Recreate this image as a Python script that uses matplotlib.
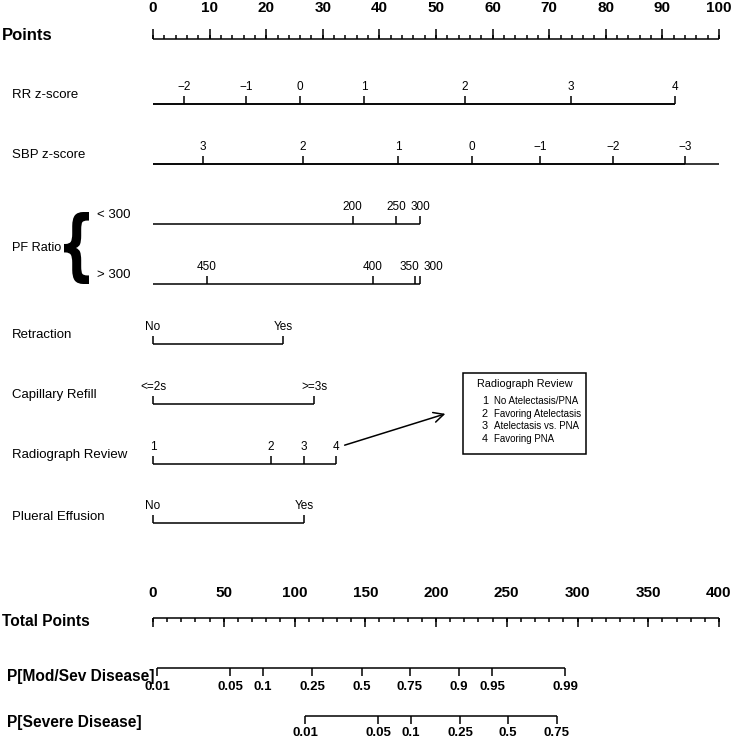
import matplotlib
matplotlib.use("Agg")
import matplotlib.pyplot as plt
from matplotlib.patches import Rectangle, FancyArrowPatch, PathPatch
from matplotlib.textpath import TextPath
from matplotlib.font_manager import FontProperties
from matplotlib.transforms import Affine2D

plt.rcParams['font.family'] = ['Liberation Sans', 'DejaVu Sans']

# ---------------- data ----------------
points_major = [0, 10, 20, 30, 40, 50, 60, 70, 80, 90, 100]
points_minor = list(range(0, 101, 2))

rr_labels = ["\u22122", "\u22121", "0", "1", "2", "3", "4"]
rr_points = [5.5, 16.4, 26.0, 37.3, 55.1, 73.8, 92.2]

sbp_labels = ["3", "2", "1", "0", "\u22121", "\u22122", "\u22123"]
sbp_points = [8.8, 26.5, 43.3, 56.4, 68.4, 81.3, 94.0]

pf_lt_labels = ["200", "250", "300"]
pf_lt_points = [35.3, 42.9, 47.2]

pf_gt_labels = ["450", "400", "350", "300"]
pf_gt_points = [9.5, 38.8, 46.3, 47.2]

retraction_labels = ["No", "Yes"]
retraction_points = [0, 23.0]

caprefill_labels = ["<=2s", ">=3s"]
caprefill_points = [0, 28.5]

radiograph_labels = ["1", "2", "3", "4"]
radiograph_points = [0, 20.8, 26.7, 32.3]

effusion_labels = ["No", "Yes"]
effusion_points = [0, 26.7]

total_major = [0, 50, 100, 150, 200, 250, 300, 350, 400]
total_minor = list(range(0, 401, 10))

modsev_labels = ["0.01", "0.05", "0.1", "0.25", "0.5", "0.75", "0.9", "0.95", "0.99"]
modsev_total = [2.8, 54.4, 77.7, 112.4, 147.7, 181.6, 216.3, 239.6, 291.2]

severe_labels = ["0.01", "0.05", "0.1", "0.25", "0.5", "0.75"]
severe_total = [107.4, 159.0, 182.3, 217.0, 250.9, 285.5]

legend_title = "Radiograph Review"
legend_numbers = ["1", "2", "3", "4"]
legend_items = ["No Atelectasis/PNA", "Favoring Atelectasis",
                "Atelectasis vs. PNA", "Favoring PNA"]

# ---------------- layout ----------------
W, H = 733, 739
fig = plt.figure(figsize=(W / 100, H / 100), dpi=100)
ax = fig.add_axes([0, 0, 1, 1])
X0, PPU = 153, 5.66
ax.set_xlim(-X0 / PPU, (W - X0) / PPU)
ax.set_ylim(H, 0)
ax.axis('off')

LW = 1.1
TOT = 100 / 400.0  # total points -> points axis


def px(xp):
    return (xp - X0) / PPU


def var_scale(y, pos, labels, name, start=0, label_offsets=None, tick_len=8,
              name_dy=-9, fs=8.5, name_fs=9.5):
    ax.hlines(y, start, max(pos), color='black', lw=LW)
    ax.vlines(pos, y - tick_len, y, color='black', lw=LW)
    for i, (p, lab) in enumerate(zip(pos, labels)):
        dx = 0 if label_offsets is None else label_offsets[i] / PPU
        ax.text(p + dx, y - 17, lab, ha='center', va='center', fontsize=fs)
    if name:
        ax.text(px(12), y + name_dy, name, ha='left', va='center', fontsize=name_fs)


# Points
ax.hlines(39, 0, 100, color='black', lw=LW)
ax.vlines(points_minor, 35, 39, color='black', lw=LW)
ax.vlines(points_major, 29, 39, color='black', lw=LW)
for v in points_major:
    ax.text(v, 8, str(v), ha='center', va='center', fontsize=11, fontweight='bold')
ax.text(px(2), 35, "Points", ha='left', va='center', fontsize=12, fontweight='bold')

# RR z-score
ax.hlines(104, 0, max(rr_points), color='black', lw=LW)
var_scale(104, rr_points, rr_labels, "RR z-score")

# SBP z-score
ax.hlines(164, 0, 100, color='black', lw=LW)
var_scale(164, sbp_points, sbp_labels, "SBP z-score")

# PF ratio
var_scale(224, pf_lt_points, pf_lt_labels, None)
var_scale(284, pf_gt_points, pf_gt_labels, None, label_offsets=[0, 0, -6, 13])
ax.text(px(97), 215, "< 300", ha='left', va='center', fontsize=9.5)
ax.text(px(97), 275, "> 300", ha='left', va='center', fontsize=9.5)
ax.text(px(12), 248, "PF Ratio", ha='left', va='center', fontsize=9.2)

# curly brace, stretched glyph
tp = TextPath((0, 0), "{", size=1, prop=FontProperties(family='DejaVu Sans', weight='bold'))
ext = tp.get_extents()
aff = (Affine2D().translate(-ext.x0, -ext.y0)
       .scale((25 / PPU) / ext.width, -72 / ext.height)
       .translate(px(64), 284))
ax.add_patch(PathPatch(aff.transform_path(tp), facecolor='black', edgecolor='none'))

# binary / categorical
var_scale(344, retraction_points, retraction_labels, "Retraction")
var_scale(404, caprefill_points, caprefill_labels, "Capillary Refill")
var_scale(464, radiograph_points, radiograph_labels, "Radiograph Review")
var_scale(523, effusion_points, effusion_labels, "Plueral Effusion", name_dy=-6)

# arrow and legend box
arr = FancyArrowPatch((px(342), 446), (px(448), 413), arrowstyle='->',
                      mutation_scale=18, color='black', lw=LW)
ax.add_patch(arr)
ax.add_patch(Rectangle((px(463), 373), px(586) - px(463), 81, fill=False,
                       edgecolor='black', lw=LW))
ax.text((px(463) + px(586)) / 2, 384, legend_title, ha='center', va='center', fontsize=7.8)
for i, (num, item) in enumerate(zip(legend_numbers, legend_items)):
    yy = 401 + 12.7 * i
    ax.text(px(482), yy, num, ha='left', va='center', fontsize=7.8)
    ax.text(px(494), yy, item, ha='left', va='center', fontsize=7.0)

# Total points
ax.hlines(618, 0, 100, color='black', lw=LW)
ax.vlines([v * TOT for v in total_minor], 618, 622, color='black', lw=LW)
ax.vlines([v * TOT for v in total_major], 618, 627, color='black', lw=LW)
for v in total_major:
    ax.text(v * TOT, 593, str(v), ha='center', va='center', fontsize=11, fontweight='bold')
ax.text(px(2), 622, "Total Points", ha='left', va='center', fontsize=11.2, fontweight='bold')


# probability scales
def prob_scale(y, totals, labels, name, name_dy, lab_dy):
    xs = [t * TOT for t in totals]
    ax.hlines(y, min(xs), max(xs), color='black', lw=LW)
    ax.vlines(xs, y, y + 8, color='black', lw=LW)
    for x, lab in zip(xs, labels):
        ax.text(x, y + lab_dy, lab, ha='center', va='center', fontsize=9.5, fontweight='bold')
    ax.text(px(7), y + name_dy, name, ha='left', va='center', fontsize=11.2, fontweight='bold')


prob_scale(668, modsev_total, modsev_labels, "P[Mod/Sev Disease]", 8, 19)
prob_scale(716, severe_total, severe_labels, "P[Severe Disease]", 7, 17)

fig.savefig("out.png", dpi=100)
